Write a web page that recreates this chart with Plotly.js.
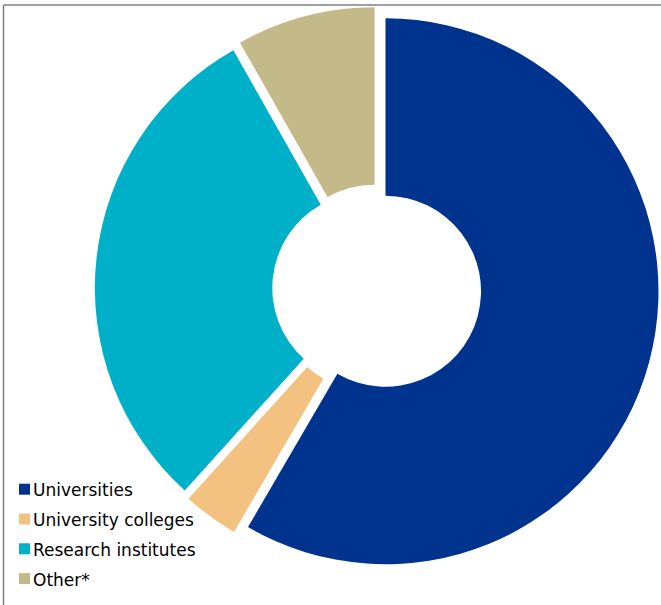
<!DOCTYPE html>
<html>
<head>
<meta charset="utf-8">
<script src="https://cdn.plot.ly/plotly-3.0.1.min.js"></script>
<style>
html, body { margin: 0; padding: 0; background: #ffffff; }
#chart { width: 661px; height: 605px; }
</style>
</head>
<body>
<div id="chart"></div>
<script>
// Data (shares, %)
const categories = ["Universities", "University colleges", "Research institutes", "Other*"];
const shares = [58.4, 3.3, 30.1, 8.2];
const sliceColors = ["#00338D", "#F3C180", "#00B0C8", "#C4B989"];

const W = 661, H = 605;

const trace = {
  type: "pie",
  labels: categories,
  values: shares,
  sort: false,
  direction: "clockwise",
  rotation: 0,
  hole: 0.35,
  pull: categories.map(() => 0.033),
  textinfo: "none",
  hoverinfo: "label+percent",
  showlegend: false,
  marker: { colors: sliceColors, line: { width: 0 } },
  domain: { x: [0.1434, 0.9967], y: [0.0564, 0.9886] }
};

// Legend (built from the category list): swatch squares + labels
const legendTop = 489.2;   // px from top, centre of first row
const legendStep = 29.8;   // px between rows
const swatchX0 = 19, swatchX1 = 30, swatchHalf = 5.5, textX = 31;

const shapes = [
  { type: "line", xref: "paper", yref: "paper", x0: 0.0053, x1: 1, y0: 0.9917, y1: 0.9917,
    line: { color: "#808080", width: 1.5 } },
  { type: "line", xref: "paper", yref: "paper", x0: 0.0053, x1: 0.0053, y0: 0, y1: 0.9917,
    line: { color: "#808080", width: 1.5 } }
];
const annotations = [];
categories.forEach((name, i) => {
  const cy = legendTop + i * legendStep;
  shapes.push({
    type: "rect", xref: "paper", yref: "paper",
    x0: swatchX0 / W, x1: swatchX1 / W,
    y0: 1 - (cy + swatchHalf) / H, y1: 1 - (cy - swatchHalf) / H,
    fillcolor: sliceColors[i], line: { width: 0 }
  });
  annotations.push({
    xref: "paper", yref: "paper",
    x: textX / W, y: 1 - (cy + 1) / H,
    xanchor: "left", yanchor: "middle",
    text: name, showarrow: false,
    font: { family: "DejaVu Sans, Verdana, sans-serif", size: 17, color: "#000000" }
  });
});

const layout = {
  width: W,
  height: H,
  margin: { l: 0, r: 0, t: 0, b: 0 },
  paper_bgcolor: "#ffffff",
  plot_bgcolor: "#ffffff",
  showlegend: false,
  shapes: shapes,
  annotations: annotations
};

Plotly.newPlot("chart", [trace], layout, { displayModeBar: false, staticPlot: true });
</script>
</body>
</html>
